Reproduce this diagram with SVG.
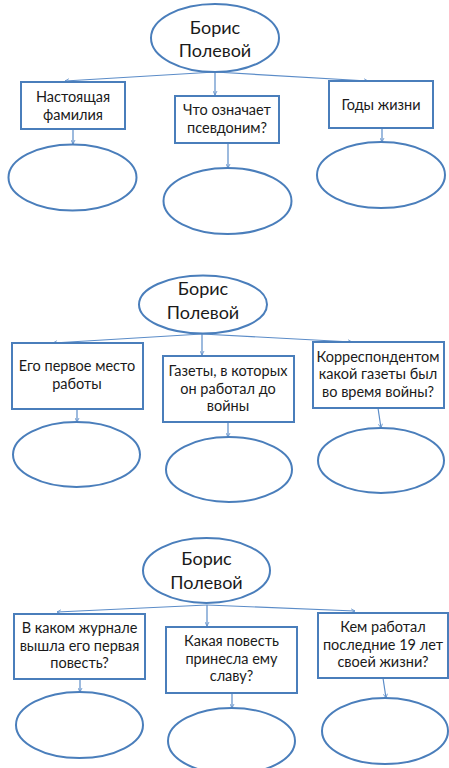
<svg xmlns="http://www.w3.org/2000/svg" width="449" height="768" viewBox="0 0 449 768">
<defs>
<style>
.shape{fill:#fff;stroke:#4a7ebb;stroke-width:2}
.conn{fill:none;stroke:#5b8cc8;stroke-width:1.2}
.t{font-family:Lato,"Liberation Sans",sans-serif;font-size:14.5px;fill:#1a1a1a;text-anchor:middle}
.h{font-family:Lato,"Liberation Sans",sans-serif;font-size:18px;fill:#1a1a1a;text-anchor:middle}
</style>
<marker id="arr" viewBox="0 0 10 10" refX="9" refY="5" markerWidth="5" markerHeight="5" orient="auto" markerUnits="userSpaceOnUse">
<path d="M1,1 L9,5 L1,9" fill="none" stroke="#5b8cc8" stroke-width="1.6"/>
</marker>
</defs>
<rect width="449" height="768" fill="#fff"/>
<g id="connectors">
<line class="conn" x1="215" y1="72" x2="65" y2="81" marker-end="url(#arr)"/>
<line class="conn" x1="215" y1="72" x2="215" y2="95" marker-end="url(#arr)"/>
<line class="conn" x1="215" y1="72" x2="368" y2="81" marker-end="url(#arr)"/>
<line class="conn" x1="73" y1="129" x2="73" y2="144" marker-end="url(#arr)"/>
<line class="conn" x1="228" y1="143" x2="228" y2="168" marker-end="url(#arr)"/>
<line class="conn" x1="382" y1="128" x2="382" y2="142" marker-end="url(#arr)"/>
<line class="conn" x1="202" y1="334" x2="53" y2="343" marker-end="url(#arr)"/>
<line class="conn" x1="202" y1="334" x2="202" y2="355" marker-end="url(#arr)"/>
<line class="conn" x1="202" y1="334" x2="352" y2="342" marker-end="url(#arr)"/>
<line class="conn" x1="77" y1="409" x2="77" y2="422" marker-end="url(#arr)"/>
<line class="conn" x1="228" y1="422" x2="228" y2="437" marker-end="url(#arr)"/>
<line class="conn" x1="378" y1="408" x2="381" y2="428" marker-end="url(#arr)"/>
<line class="conn" x1="207" y1="605" x2="57" y2="612" marker-end="url(#arr)"/>
<line class="conn" x1="207" y1="605" x2="207" y2="626" marker-end="url(#arr)"/>
<line class="conn" x1="207" y1="605" x2="355" y2="611" marker-end="url(#arr)"/>
<line class="conn" x1="80" y1="679" x2="80" y2="692" marker-end="url(#arr)"/>
<line class="conn" x1="232" y1="693" x2="232" y2="708" marker-end="url(#arr)"/>
<line class="conn" x1="383" y1="678" x2="386" y2="698" marker-end="url(#arr)"/>
</g>
<g id="title1"><ellipse class="shape" cx="215" cy="38" rx="64" ry="34"/><text class="h" x="215" y="34">Борис</text><text class="h" x="215" y="57">Полевой</text></g>
<g id="box1a"><rect class="shape" x="21" y="82" width="104" height="47"/><text class="t" x="73" y="102">Настоящая</text><text class="t" x="73" y="120">фамилия</text></g>
<g id="box1b"><rect class="shape" x="175" y="96" width="104" height="47"/><text class="t" x="227" y="115">Что означает</text><text class="t" x="227" y="133">псевдоним?</text></g>
<g id="box1c"><rect class="shape" x="329" y="81" width="104" height="47"/><text class="t" x="381" y="110">Годы жизни</text></g>
<g id="ell1a"><ellipse class="shape" cx="72.5" cy="177.5" rx="64" ry="33"/></g>
<g id="ell1b"><ellipse class="shape" cx="227.5" cy="201" rx="64" ry="33"/></g>
<g id="ell1c"><ellipse class="shape" cx="381" cy="175" rx="64" ry="33"/></g>

<g id="title2"><ellipse class="shape" cx="203" cy="304.5" rx="64" ry="29"/><text class="h" x="203" y="295">Борис</text><text class="h" x="203" y="319">Полевой</text></g>
<g id="box2a"><rect class="shape" x="12" y="343" width="131" height="66"/><text class="t" x="77" y="371">Его первое место</text><text class="t" x="77" y="389">работы</text></g>
<g id="box2b"><rect class="shape" x="163" y="356" width="131" height="66"/><text class="t" x="228" y="376">Газеты, в которых</text><text class="t" x="228" y="394">он работал до</text><text class="t" x="228" y="411">войны</text></g>
<g id="box2c"><rect class="shape" x="313" y="342" width="131" height="66"/><text class="t" x="378" y="362">Корреспондентом</text><text class="t" x="378" y="379">какой газеты был</text><text class="t" x="378" y="397">во время войны?</text></g>
<g id="ell2a"><ellipse class="shape" cx="76.5" cy="454.5" rx="63.5" ry="32.5"/></g>
<g id="ell2b"><ellipse class="shape" cx="229" cy="469.5" rx="63" ry="32.5"/></g>
<g id="ell2c"><ellipse class="shape" cx="381" cy="460.5" rx="63" ry="32.5"/></g>

<g id="title3"><ellipse class="shape" cx="206.5" cy="570.5" rx="63.5" ry="32.5"/><text class="h" x="206.5" y="565">Борис</text><text class="h" x="206.5" y="589">Полевой</text></g>
<g id="box3a"><rect class="shape" x="14" y="614" width="131" height="65"/><text class="t" x="79.5" y="633">В каком журнале</text><text class="t" x="79.5" y="651">вышла его первая</text><text class="t" x="79.5" y="668">повесть?</text></g>
<g id="box3b"><rect class="shape" x="166" y="627" width="131" height="66"/><text class="t" x="231.5" y="646">Какая повесть</text><text class="t" x="231.5" y="664">принесла ему</text><text class="t" x="231.5" y="681">славу?</text></g>
<g id="box3c"><rect class="shape" x="318" y="613" width="130" height="65"/><text class="t" x="383" y="632">Кем работал</text><text class="t" x="383" y="650">последние 19 лет</text><text class="t" x="383" y="667">своей жизни?</text></g>
<g id="ell3a"><ellipse class="shape" cx="79.5" cy="725" rx="63.5" ry="33"/></g>
<g id="ell3b"><ellipse class="shape" cx="231.5" cy="741" rx="63.5" ry="33"/></g>
<g id="ell3c"><ellipse class="shape" cx="385" cy="731" rx="63" ry="33"/></g>
</svg>
